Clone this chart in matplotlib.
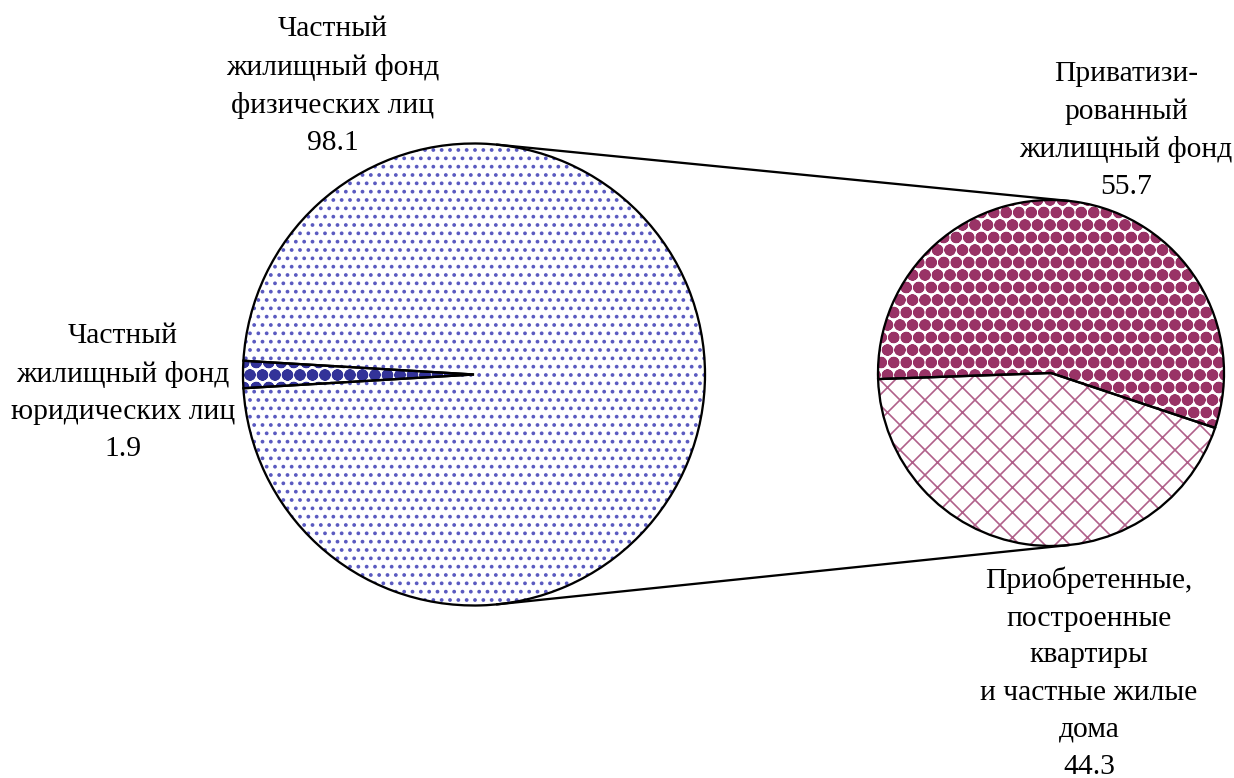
import numpy as np
import matplotlib
matplotlib.use("Agg")
import matplotlib.pyplot as plt
from matplotlib.patches import Wedge

# data
main_labels = ["Частный\nжилищный фонд\nюридических лиц", "Частный\nжилищный фонд\nфизических лиц"]
main_values = [1.9, 98.1]
sub_labels = ["Приватизи-\nрованный\nжилищный фонд",
              "Приобретенные,\nпостроенные\nквартиры\nи частные жилые\nдома"]
sub_values = [55.7, 44.3]

W, H = 1235, 778
DPI = 150
plt.rcParams['font.family'] = ['Liberation Serif', 'DejaVu Serif']

fig = plt.figure(figsize=(W / DPI, H / DPI), dpi=DPI)
ax = fig.add_axes([0, 0, 1, 1])

# geometry (pixels, y up)
c1 = (474, H - 374.5)
r1 = 231
c2 = (1051, H - 373)
r2 = 173

start1 = 180 - main_values[0] * 3.6 / 2
w1, _ = ax.pie(main_values, center=c1, radius=r1, startangle=start1,
               counterclock=True, frame=True)
w2, _ = ax.pie(sub_values, center=c2, radius=r2, startangle=-18.5,
               counterclock=True, frame=True)

styles = [
    (w1[0], '#333399', 'OO..', 1.3),
    (w1[1], '#5a5ac0', '...', 1.0),
    (w2[0], '#993366', 'OO..', 1.3),
    (w2[1], '#b0608a', 'xx', 0.8),
]
for wd, col, htch, hlw in styles:
    wd.set_facecolor('white')
    wd.set_edgecolor(col)
    wd.set_linewidth(0)
    wd.set_hatch(htch)
    if hasattr(wd, 'set_hatch_linewidth'):
        wd.set_hatch_linewidth(hlw)
    ax.add_patch(Wedge(wd.center, wd.r, wd.theta1, wd.theta2, fill=False,
                       edgecolor='black', linewidth=1.1, zorder=3))

# connector lines (external tangents)
d = c2[0] - c1[0]
th = np.arccos((r1 - r2) / d)
for s in (1, -1):
    p1 = (c1[0] + r1 * np.cos(th), c1[1] + s * r1 * np.sin(th))
    p2 = (c2[0] + r2 * np.cos(th), c2[1] + s * r2 * np.sin(th))
    ax.plot([p1[0], p2[0]], [p1[1], p2[1]], color='black', lw=1.1, zorder=3)

fs = 14.2
ls = 1.55
ax.text(333, H - 16, f"{main_labels[1]}\n{main_values[1]}", ha='center', va='top',
        fontsize=fs, linespacing=ls)
ax.text(123, H - 323, f"{main_labels[0]}\n{main_values[0]}", ha='center', va='top',
        fontsize=fs, linespacing=ls)
ax.text(1126, H - 61, f"{sub_labels[0]}\n{sub_values[0]}", ha='center', va='top',
        fontsize=fs, linespacing=ls)
ax.text(1089, H - 567, f"{sub_labels[1]}\n{sub_values[1]}", ha='center', va='top',
        fontsize=fs, linespacing=ls)

ax.set_xlim(0, W)
ax.set_ylim(0, H)
ax.set_aspect('auto')
ax.axis('off')
fig.savefig("out.png", dpi=DPI, facecolor='white')
